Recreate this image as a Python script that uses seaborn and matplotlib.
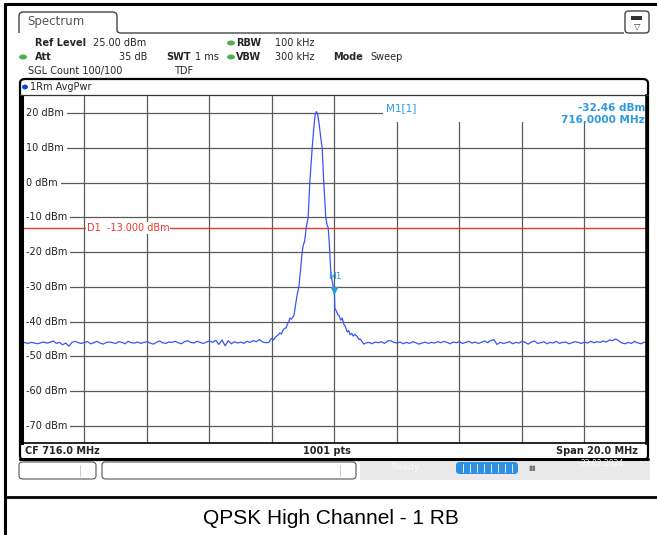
"""Spectrum analyzer screenshot: QPSK high channel, 1 RB, average power trace."""
import matplotlib
matplotlib.use("Agg")
import matplotlib.pyplot as plt
from matplotlib.lines import Line2D
from matplotlib.patches import FancyBboxPatch, Rectangle, Ellipse, Circle, PathPatch
from matplotlib.path import Path
import numpy as np
import pandas as pd
import seaborn as sns

# ---- trace data (MHz, dBm) ----
left_start, left_step = 706.0, 0.1
left_noise = [
    -45.8, -46.1, -46.3, -46.0, -46.2, -46.4, -46.1, -45.9, -46.2, -46.0,
    -45.6, -46.3, -46.0, -46.7, -46.2, -47.1, -46.0, -45.7, -46.1, -46.3,
    -46.0, -45.8, -46.4, -46.1, -45.7, -46.2, -46.5, -46.0, -45.9, -46.1,
    -46.3, -45.8, -46.0, -46.4, -45.7, -46.1, -46.2, -45.9, -46.3, -46.0,
    -45.8, -46.2, -46.5, -46.0, -45.6, -46.1, -46.3, -45.9, -46.0, -45.7,
    -46.1, -46.4, -45.8, -45.5, -46.0, -46.2, -45.7, -46.0, -46.3, -45.9,
    -45.6, -46.0, -45.4, -46.6, -45.3, -47.0, -45.5, -46.4, -45.8, -46.2,
    -45.9, -46.3, -45.7, -46.0, -45.5, -45.8, -45.2, -45.9, -46.1,
]

peak_freq = [
    713.9, 713.95, 714.0, 714.05, 714.1, 714.15, 714.2, 714.25, 714.3, 714.35,
    714.4, 714.45, 714.5, 714.55, 714.57, 714.62, 714.7, 714.75, 714.8, 714.86,
    714.92, 714.965, 715.0, 715.04, 715.07, 715.093, 715.157, 715.208, 715.285,
    715.34, 715.38, 715.42, 715.46, 715.5, 715.56, 715.606, 715.657, 715.721,
    715.76, 715.798, 715.83, 715.849, 715.87, 715.894, 715.93, 715.97, 716.0,
    716.01, 716.05, 716.106, 716.15, 716.2, 716.247, 716.3, 716.35, 716.407,
    716.45, 716.5, 716.55, 716.6, 716.65, 716.728, 716.78, 716.83, 716.88,
    716.939, 717.0,
]
peak_level = [
    -46.0, -45.2, -44.8, -45.3, -44.6, -44.2, -43.8, -43.3, -43.6, -42.5,
    -42.0, -41.8, -40.6, -39.8, -39.0, -39.3, -38.3, -35.5, -32.5, -30.0,
    -24.5, -20.0, -18.0, -17.0, -15.0, -13.0, -10.0, 0.0, 10.0,
    16.0, 19.5, 20.5, 19.8, 17.5, 13.0, 10.0, 0.0, -10.0,
    -12.0, -13.0, -17.0, -20.0, -24.0, -27.0, -28.5, -30.5, -32.46,
    -36.2, -36.8, -38.0, -38.3, -39.6, -39.0, -40.8, -41.5, -43.0,
    -42.6, -43.8, -43.4, -44.2, -43.7, -44.3, -45.2, -45.0, -45.8,
    -46.5, -46.2,
]

right_start, right_step = 717.1, 0.1
right_noise = [
    -46.0, -46.4, -45.9, -46.1, -45.8, -46.3, -45.6, -45.5, -46.0,
    -46.2, -45.9, -46.4, -46.0, -46.3, -45.8, -46.1, -46.5, -46.2, -45.9,
    -46.3, -46.0, -46.2, -45.8, -46.1, -45.7, -46.0, -46.4, -45.9, -46.1,
    -45.8, -46.3, -46.0, -45.7, -46.2, -45.9, -46.3, -46.0, -45.6, -46.1,
    -45.5, -45.2, -46.6, -46.0, -46.3, -46.1, -45.8, -46.4, -46.0, -46.2,
    -45.7, -46.0, -46.5, -45.9, -45.6, -46.3, -46.1, -45.8, -46.4, -46.0,
    -46.2, -45.7, -46.3, -46.0, -45.9, -46.4, -46.1, -45.8, -46.0, -46.3,
    -45.9, -46.2, -45.7, -46.1, -45.8, -46.0, -45.6, -45.9, -45.3, -45.5,
    -45.0, -45.6, -46.2, -46.4, -46.0, -46.3, -45.7, -46.1, -46.4, -46.0,
    -45.9,
]

y_ticks = [20, 10, 0, -10, -20, -30, -40, -50, -60, -70]
display_line = -13.0
marker_freq, marker_level = 716.0, -32.46

left_freq = list(np.round(left_start + left_step * np.arange(len(left_noise)), 3))
right_freq = list(np.round(right_start + right_step * np.arange(len(right_noise)), 3))
df = pd.DataFrame({
    "freq": left_freq + peak_freq + right_freq,
    "level": left_noise + peak_level + right_noise,
})

# ---- colours ----
TRACE = "#3a55f2"
MARK = "#2a9be0"
RED = "#e8392c"
GRID = "#5a5a5a"
GREEN = "#4caf50"

W, H = 657, 535


def fx(px):
    return px / W


def fy(py):
    return 1 - py / H


sns.set_theme(style="white")
plt.rcParams["font.family"] = ["DejaVu Sans"]

fig = plt.figure(figsize=(W / 100, H / 100), dpi=100)
fig.patch.set_facecolor("white")

# outer document frame
fig.add_artist(Line2D([fx(5), fx(657)], [fy(4), fy(4)], color="black", lw=2.2))
fig.add_artist(Line2D([fx(5), fx(5)], [fy(4), fy(535)], color="black", lw=2.2))
fig.add_artist(Line2D([fx(5), fx(657)], [fy(497), fy(497)], color="black", lw=2.0))
fig.text(fx(331), fy(518), "QPSK High Channel - 1 RB", ha="center", va="center",
         fontsize=15, family="Liberation Sans", color="black")

# "Spectrum" tab (open at the bottom) and top bar
tab = Path(
    [(fx(19), fy(33)), (fx(19), fy(16)), (fx(19), fy(12)), (fx(23), fy(12)),
     (fx(112), fy(12)), (fx(117), fy(12)), (fx(117), fy(16)), (fx(117), fy(30)),
     (fx(117), fy(33)), (fx(121), fy(33)), (fx(624), fy(33))],
    [Path.MOVETO, Path.LINETO, Path.CURVE3, Path.CURVE3, Path.LINETO, Path.CURVE3,
     Path.CURVE3, Path.LINETO, Path.CURVE3, Path.CURVE3, Path.LINETO],
)
fig.add_artist(PathPatch(tab, fc="none", ec="#444444", lw=1.0, transform=fig.transFigure))
fig.text(fx(27), fy(22), "Spectrum", ha="left", va="center", fontsize=8.5, color="#555555")
fig.add_artist(FancyBboxPatch((fx(625), fy(33)), fx(24), 22 / H,
                              boxstyle="round,pad=0,rounding_size=0.006",
                              fc="white", ec="#444444", lw=1.0))
fig.add_artist(Rectangle((fx(631), fy(20)), fx(11), 4 / H, fc="#333333", ec="none"))
fig.text(fx(637), fy(26), "▽", ha="center", va="center", fontsize=6, color="#333333")

# header settings
hdr = 7
fig.text(fx(35), fy(43), "Ref Level", fontsize=hdr, weight="bold", va="center")
fig.text(fx(93), fy(43), "25.00 dBm", fontsize=hdr, va="center")
fig.text(fx(35), fy(57), "Att", fontsize=hdr, weight="bold", va="center")
fig.text(fx(147), fy(57), "35 dB", fontsize=hdr, va="center", ha="right")
fig.text(fx(166), fy(57), "SWT", fontsize=hdr, weight="bold", va="center")
fig.text(fx(195), fy(57), "1 ms", fontsize=hdr, va="center")
fig.text(fx(236), fy(43), "RBW", fontsize=hdr, weight="bold", va="center")
fig.text(fx(275), fy(43), "100 kHz", fontsize=hdr, va="center")
fig.text(fx(236), fy(57), "VBW", fontsize=hdr, weight="bold", va="center")
fig.text(fx(275), fy(57), "300 kHz", fontsize=hdr, va="center")
fig.text(fx(333), fy(57), "Mode", fontsize=hdr, weight="bold", va="center")
fig.text(fx(370), fy(57), "Sweep", fontsize=hdr, va="center")
fig.text(fx(28), fy(71), "SGL Count 100/100", fontsize=hdr, va="center")
fig.text(fx(174), fy(71), "TDF", fontsize=hdr, va="center")
for px, py in [(231, 43), (231, 57), (23, 57)]:
    fig.add_artist(Ellipse((fx(px), fy(py)), 8 / W, 5 / H, fc=GREEN, ec="none"))

# analyzer window frame
fig.add_artist(FancyBboxPatch((fx(20), fy(460)), fx(628), 381 / H,
                              boxstyle="round,pad=0,rounding_size=0.008",
                              fc="none", ec="black", lw=1.6))
fig.add_artist(Circle((fx(25), fy(87)), 3 / W, fc="#1240e0", ec="none"))
fig.text(fx(30), fy(87), "1Rm AvgPwr", fontsize=hdr, va="center")
fig.add_artist(Line2D([fx(20), fx(648)], [fy(95), fy(95)], color="#333333", lw=0.9))

# info bar under the grid
fig.text(fx(25), fy(451), "CF 716.0 MHz", fontsize=hdr, weight="bold", va="center")
fig.text(fx(327), fy(451), "1001 pts", fontsize=hdr, weight="bold", va="center", ha="center")
fig.text(fx(638), fy(451), "Span 20.0 MHz", fontsize=hdr, weight="bold", va="center", ha="right")
fig.add_artist(Line2D([fx(20), fx(648)], [fy(459), fy(459)], color="black", lw=2.2))

# status bar
for x0, x1, xd in [(19, 96, 80), (102, 356, 340)]:
    fig.add_artist(FancyBboxPatch((fx(x0), fy(479)), fx(x1 - x0), 17 / H,
                                  boxstyle="round,pad=0,rounding_size=0.006",
                                  fc="white", ec="#555555", lw=0.8))
    fig.add_artist(Line2D([fx(xd), fx(xd)], [fy(465), fy(476)], color="#cccccc", lw=0.7))
fig.add_artist(Rectangle((fx(360), fy(480)), fx(290), 19 / H, fc="#e9e9e9", ec="none"))
fig.text(fx(405), fy(468), "Ready", fontsize=6.5, color="#fafafa", va="center", ha="center")
fig.add_artist(FancyBboxPatch((fx(456), fy(474)), fx(62), 12 / H,
                              boxstyle="round,pad=0,rounding_size=0.006",
                              fc="#2f8fe0", ec="none"))
for k in range(1, 9):
    fig.add_artist(Line2D([fx(456 + 7 * k), fx(456 + 7 * k)], [fy(472), fy(464)],
                          color="white", lw=0.6))
fig.text(fx(532), fy(468), "▮▮", fontsize=5, color="#777777", va="center", ha="center")
fig.text(fx(602), fy(464), "23.02.2024", fontsize=5.5, color="#fafafa", va="center", ha="center")

# ---- the trace grid ----
ax = fig.add_axes([fx(22), fy(443), fx(625), 347 / H])
sns.lineplot(data=df, x="freq", y="level", ax=ax, color=TRACE, lw=0.9, zorder=3)
ax.set_xlim(706, 726)
ax.set_ylim(-75, 25)
ax.set_xticks(np.arange(706, 727, 2))
ax.set_yticks(y_ticks)
ax.grid(True, color=GRID, lw=0.9)
ax.set_axisbelow(True)
ax.tick_params(length=0, labelbottom=False, labelleft=False)
ax.set_xlabel("")
ax.set_ylabel("")
for side, lw_ in [("left", 2.2), ("right", 2.6), ("bottom", 1.2), ("top", 0.0)]:
    ax.spines[side].set_linewidth(lw_)
    ax.spines[side].set_color("black")
    ax.spines[side].set_zorder(6)

# blank box behind marker readout
ax.add_patch(Rectangle((0.578, 0.925), 0.43, 0.08, transform=ax.transAxes,
                       fc="white", ec="none", zorder=1.5, clip_on=False))
ax.text(0.582, 0.965, "M1[1]", transform=ax.transAxes, fontsize=7.5, color=MARK,
        va="center", ha="left", zorder=5)
ax.text(0.997, 0.965, f"{marker_level:.2f} dBm", transform=ax.transAxes, fontsize=7.5,
        color=MARK, va="center", ha="right", weight="bold", zorder=5)
ax.text(0.997, 0.93, f"{marker_freq:.4f} MHz", transform=ax.transAxes, fontsize=7.5,
        color=MARK, va="center", ha="right", weight="bold", zorder=5)

# y labels inside the grid
yl = ax.get_yaxis_transform()
for v in y_ticks:
    ax.text(0.006, v, f"{v} dBm", transform=yl, fontsize=7, color="#222222",
            va="center", ha="left", zorder=4,
            bbox=dict(fc="white", ec="none", pad=2.4))

# display line D1
ax.axhline(display_line, color=RED, lw=1.0, zorder=2.5)
ax.text((87 - 22) / 625, display_line, f"D1  {display_line:.3f} dBm",
        transform=yl, fontsize=7, color=RED, va="center", ha="left", zorder=4,
        bbox=dict(fc="white", ec="none", pad=0.5))

# marker M1
ax.plot([marker_freq], [marker_level + 1.6], marker="v", ms=5, color=MARK, zorder=5,
        linestyle="none")
ax.text(marker_freq, marker_level + 5.3, "M1", fontsize=6.5, color=MARK,
        ha="center", va="center", zorder=5)

fig.savefig("out.png", dpi=100, facecolor="white")
